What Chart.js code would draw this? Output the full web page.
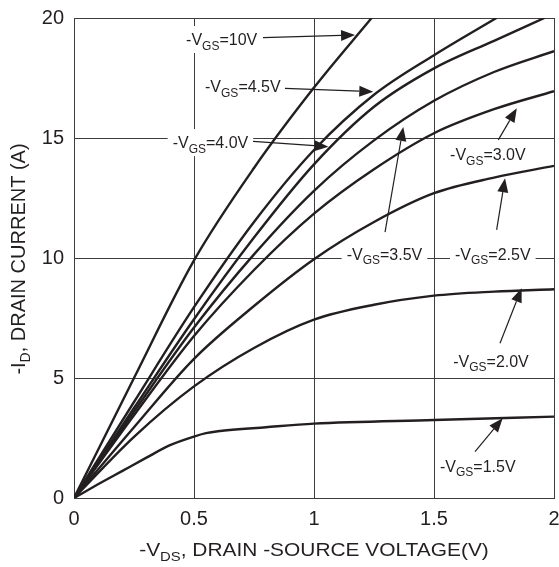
<!DOCTYPE html>
<html>
<head>
<meta charset="utf-8">
<script src="https://cdn.jsdelivr.net/npm/chart.js@4.4.1/dist/chart.umd.min.js"></script>
<style>
  html, body { margin: 0; padding: 0; background: #fff; }
  #wrap { width: 559px; height: 567px; }
</style>
</head>
<body>
<div id="wrap"><canvas id="ivChart" width="559" height="567"></canvas></div>
<script>
// -VDS (V) sweep points and -ID (A) readings, one pair per -VGS curve
const vdsSteps = [0, 0.25, 0.5, 0.75, 1.0, 1.25, 1.5, 1.75, 2.0];

const vds10 = [0, 0.25, 0.5, 0.75, 1.0, 1.24];
const id10 = [0, 5.0, 9.9, 13.75, 17.1, 20];

const vds45 = [0, 0.25, 0.5, 0.75, 1.0, 1.25, 1.5, 1.76];
const id45 = [0, 4.0, 7.95, 11.5, 14.5, 16.8, 18.45, 20];

const vds40 = [0, 0.25, 0.5, 0.75, 1.0, 1.25, 1.5, 1.75, 1.96];
const id40 = [0, 3.75, 7.45, 10.85, 13.9, 16.3, 17.9, 19.05, 20];

const id35 = [0, 3.6, 7.1, 10.15, 12.8, 14.9, 16.55, 17.75, 18.62];
const id30 = [0, 3.45, 6.75, 9.5, 11.85, 13.7, 15.2, 16.2, 16.95];
const id25 = [0, 2.95, 5.8, 8.0, 9.95, 11.5, 12.7, 13.35, 13.84];
const id20 = [0, 2.55, 4.65, 6.25, 7.43, 8.05, 8.43, 8.6, 8.7];

const vds15 = [0, 0.1, 0.2, 0.3, 0.4, 0.5, 0.55, 0.6, 0.8, 1.0, 1.5, 2.0];
const id15 = [0, 0.57, 1.12, 1.67, 2.2, 2.56, 2.7, 2.78, 2.95, 3.1, 3.25, 3.39];

const vdsTicks = [0, 0.5, 1, 1.5, 2];
const idTicks = [0, 5, 10, 15, 20];

// curve labels: text left/baseline and arrow from -> to, in data units
const curveNotes = [
  { parts: ["-V", "GS", "=10V"], x: 0.467, y: 18.875, from: [0.7875, 19.18], to: [1.171, 19.29] },
  { parts: ["-V", "GS", "=4.5V"], x: 0.546, y: 16.9, from: [0.879, 17.07], to: [1.247, 16.93] },
  { parts: ["-V", "GS", "=4.0V"], x: 0.411, y: 14.58, from: [0.746, 14.86], to: [1.06, 14.64] },
  { parts: ["-V", "GS", "=3.5V"], x: 1.136, y: 9.92, from: [1.296, 11.08], to: [1.372, 15.46] },
  { parts: ["-V", "GS", "=3.0V"], x: 1.567, y: 14.08, from: [1.768, 14.92], to: [1.845, 16.24] },
  { parts: ["-V", "GS", "=2.5V"], x: 1.5875, y: 9.92, from: [1.761, 11.17], to: [1.796, 13.32] },
  { parts: ["-V", "GS", "=2.0V"], x: 1.58, y: 5.47, from: [1.775, 6.45], to: [1.865, 8.74] },
  { parts: ["-V", "GS", "=1.5V"], x: 1.525, y: 1.1, from: [1.671, 1.93], to: [1.786, 3.32] },
];

const INK = "#231f20";
const FONT = '"Liberation Sans", Arial, Helvetica, sans-serif';

function pts(xs, ys) {
  return xs.map((x, i) => ({ x: x, y: ys[i] }));
}

// text with a subscript middle part
function richWidth(ctx, parts, big, small) {
  let w = 0;
  parts.forEach((p, i) => {
    ctx.font = (i === 1 ? small : big) + "px " + FONT;
    w += ctx.measureText(p).width;
  });
  return w;
}

function drawRich(ctx, parts, x, y, big, small, drop) {
  let cx = x;
  parts.forEach((p, i) => {
    ctx.font = (i === 1 ? small : big) + "px " + FONT;
    ctx.fillText(p, cx, i === 1 ? y + drop : y);
    cx += ctx.measureText(p).width;
  });
}

const notesPlugin = {
  id: "curveNotes",
  beforeDatasetsDraw(chart) {
    const ctx = chart.ctx;
    const xs = chart.scales.x, ys = chart.scales.y;
    ctx.save();
    ctx.fillStyle = "#fff";
    curveNotes.forEach((n) => {
      const px = xs.getPixelForValue(n.x);
      const py = ys.getPixelForValue(n.y);
      const w = richWidth(ctx, n.parts, 16, 12);
      ctx.fillRect(px - 5, py - 19, w + 10, 27);
    });
    ctx.restore();
  },
  afterDatasetsDraw(chart) {
    const ctx = chart.ctx;
    const xs = chart.scales.x, ys = chart.scales.y;
    ctx.save();
    ctx.fillStyle = INK;
    ctx.strokeStyle = INK;
    ctx.textBaseline = "alphabetic";
    ctx.textAlign = "left";
    curveNotes.forEach((n) => {
      const px = xs.getPixelForValue(n.x);
      const py = ys.getPixelForValue(n.y);
      drawRich(ctx, n.parts, px, py, 16, 12, 4.5);

      const x0 = xs.getPixelForValue(n.from[0]), y0 = ys.getPixelForValue(n.from[1]);
      const x1 = xs.getPixelForValue(n.to[0]), y1 = ys.getPixelForValue(n.to[1]);
      const a = Math.atan2(y1 - y0, x1 - x0);
      const len = 14, half = 5.5;
      const bx = x1 - len * Math.cos(a), by = y1 - len * Math.sin(a);
      ctx.lineWidth = 1.2;
      ctx.beginPath();
      ctx.moveTo(x0, y0);
      ctx.lineTo(bx, by);
      ctx.stroke();
      ctx.beginPath();
      ctx.moveTo(x1, y1);
      ctx.lineTo(bx + half * Math.sin(a), by - half * Math.cos(a));
      ctx.lineTo(bx - half * Math.sin(a), by + half * Math.cos(a));
      ctx.closePath();
      ctx.fill();
    });
    ctx.restore();
  },
  afterDraw(chart) {
    const ctx = chart.ctx;
    const area = chart.chartArea;
    ctx.save();
    ctx.fillStyle = INK;
    ctx.textBaseline = "alphabetic";
    ctx.textAlign = "left";

    // x title is a little wider in the original, stretch it a bit
    const xt = ["-V", "DS", ", DRAIN -SOURCE VOLTAGE(V)"];
    const wx = richWidth(ctx, xt, 19, 13.5) * 1.1;
    ctx.save();
    ctx.translate((area.left + area.right) / 2 - wx / 2, 556);
    ctx.scale(1.1, 1);
    drawRich(ctx, xt, 0, 0, 19, 13.5, 5);
    ctx.restore();

    const yt = ["-I", "D", ", DRAIN CURRENT (A)"];
    const wy = richWidth(ctx, yt, 20, 14);
    ctx.translate(25, 259);
    ctx.rotate(-Math.PI / 2);
    drawRich(ctx, yt, -wy / 2, 0, 20, 14, 5);
    ctx.restore();
  },
};

const curves = [
  pts(vds10, id10),
  pts(vds45, id45),
  pts(vds40, id40),
  pts(vdsSteps, id35),
  pts(vdsSteps, id30),
  pts(vdsSteps, id25),
  pts(vdsSteps, id20),
  pts(vds15, id15),
];

new Chart(document.getElementById("ivChart"), {
  type: "line",
  data: {
    datasets: curves.map((d) => ({
      data: d,
      borderColor: INK,
      borderWidth: 2.4,
      pointRadius: 0,
      fill: false,
      cubicInterpolationMode: "monotone",
    })),
  },
  options: {
    responsive: false,
    animation: false,
    layout: { padding: { top: 18, right: 5, left: 0, bottom: 0 } },
    plugins: { legend: { display: false }, tooltip: { enabled: false } },
    scales: {
      x: {
        type: "linear",
        min: 0,
        max: 2,
        afterFit: (s) => { s.height = 69; s.paddingLeft = 0; s.paddingRight = 0; },
        afterBuildTicks: (s) => { s.ticks = vdsTicks.map((v) => ({ value: v })); },
        grid: { color: "#3c3c3c", lineWidth: 1, drawTicks: false },
        border: { color: "#3c3c3c" },
        ticks: {
          color: INK,
          padding: 9,
          font: { family: FONT, size: 20 },
          callback: (v) => String(v),
        },
      },
      y: {
        type: "linear",
        min: 0,
        max: 20,
        afterFit: (s) => { s.width = 74; s.paddingTop = 0; s.paddingBottom = 0; },
        afterBuildTicks: (s) => { s.ticks = idTicks.map((v) => ({ value: v })); },
        grid: { color: "#3c3c3c", lineWidth: 1, drawTicks: false },
        border: { color: "#3c3c3c" },
        ticks: {
          color: INK,
          padding: 10,
          font: { family: FONT, size: 20 },
          callback: (v) => String(v),
        },
      },
    },
  },
  plugins: [notesPlugin],
});
</script>
</body>
</html>
